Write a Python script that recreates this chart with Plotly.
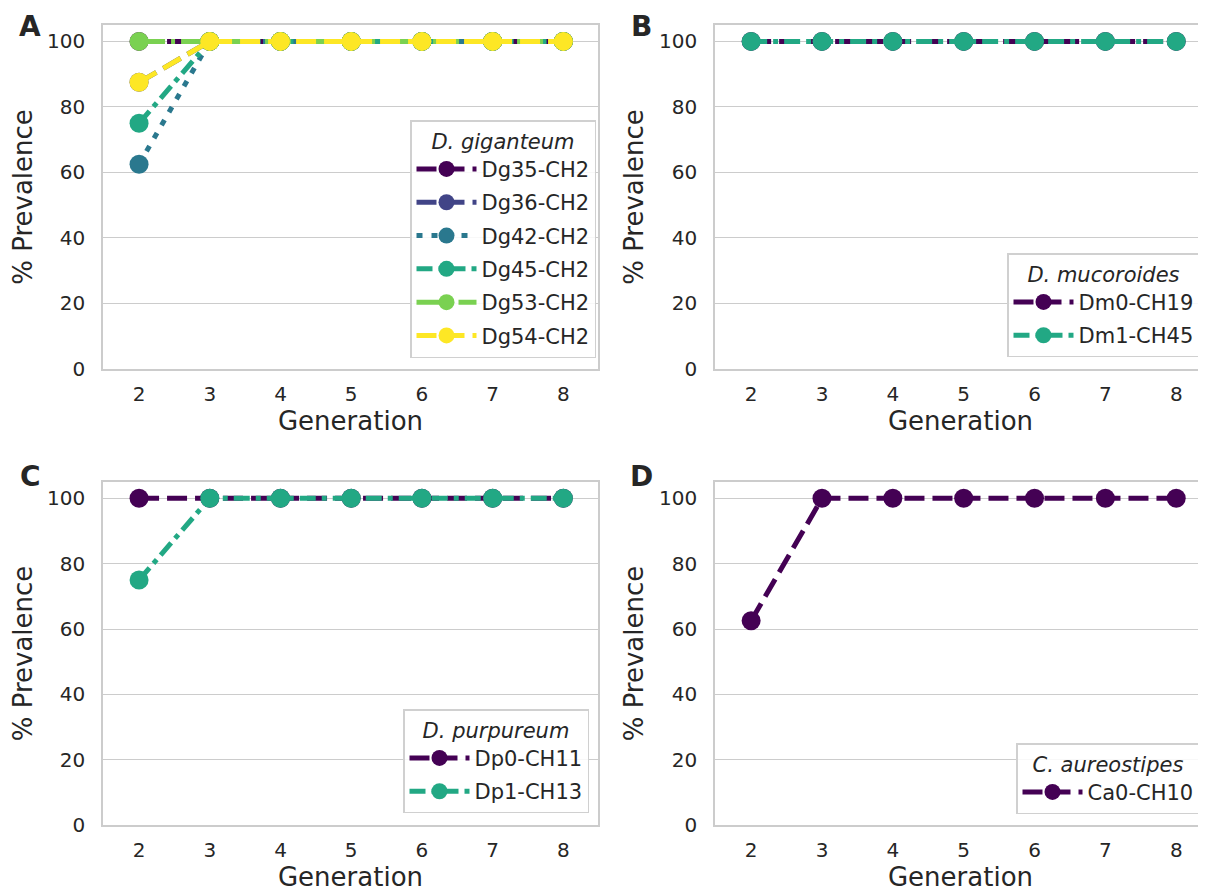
import plotly.graph_objects as go

# page offset (browser default body margin) compensated in layout
OFF = 8
W, H = 1206 - OFF, 895 - OFF

generations = [2, 3, 4, 5, 6, 7, 8]

# Panel A: D. giganteum
dg_names = ["Dg35-CH2", "Dg36-CH2", "Dg42-CH2", "Dg45-CH2", "Dg53-CH2", "Dg54-CH2"]
dg35 = [100, 100, 100, 100, 100, 100, 100]
dg36 = [87.5, 100, 100, 100, 100, 100, 100]
dg42 = [62.5, 100, 100, 100, 100, 100, 100]
dg45 = [75, 100, 100, 100, 100, 100, 100]
dg53 = [100, 100, 100, 100, 100, 100, 100]
dg54 = [87.5, 100, 100, 100, 100, 100, 100]

# Panel B: D. mucoroides
dm_names = ["Dm0-CH19", "Dm1-CH45"]
dm0 = [100, 100, 100, 100, 100, 100, 100]
dm1 = [100, 100, 100, 100, 100, 100, 100]

# Panel C: D. purpureum
dp_names = ["Dp0-CH11", "Dp1-CH13"]
dp0 = [100, 100, 100, 100, 100, 100, 100]
dp1 = [75, 100, 100, 100, 100, 100, 100]

# Panel D: C. aureostipes
ca_names = ["Ca0-CH10"]
ca0 = [62.5, 100, 100, 100, 100, 100, 100]

y_ticks = [0, 20, 40, 60, 80, 100]

PURPLE = "#440154"
BLUE = "#414487"
STEEL = "#2a788e"
TEAL = "#22a884"
GREEN = "#7ad151"
YELLOW = "#fde725"

DASH = "20px,8px"
DOT = "6px,9px"
DASHDOT = "16px,6px,5px,6px"
LONGDASH = "26px,6px,4px,6px"

fig = go.Figure()

def add(name, y, color, dash, xa, ya, legend):
    fig.add_trace(go.Scatter(
        x=generations, y=y, name=name, mode="lines+markers",
        line=dict(color=color, width=5, dash=dash),
        marker=dict(color=color, size=19),
        xaxis=xa, yaxis=ya, legend=legend, legendgroup=name,
    ))

add(dg_names[0], dg35, PURPLE, DASH, "x", "y", "legend")
add(dg_names[1], dg36, BLUE, DASH, "x", "y", "legend")
add(dg_names[2], dg42, STEEL, DOT, "x", "y", "legend")
add(dg_names[3], dg45, TEAL, DASHDOT, "x", "y", "legend")
add(dg_names[4], dg53, GREEN, LONGDASH, "x", "y", "legend")
add(dg_names[5], dg54, YELLOW, DASH, "x", "y", "legend")

add(dm_names[0], dm0, PURPLE, DASH, "x2", "y2", "legend2")
add(dm_names[1], dm1, TEAL, DASHDOT, "x2", "y2", "legend2")

add(dp_names[0], dp0, PURPLE, DASH, "x3", "y3", "legend3")
add(dp_names[1], dp1, TEAL, DASHDOT, "x3", "y3", "legend3")

add(ca_names[0], ca0, PURPLE, DASH, "x4", "y4", "legend4")

FONT = "DejaVu Sans"
TXT = "#262626"
GRID = "#cccccc"

def px_x(p):
    return (p - OFF) / W

def px_y(p):
    return 1 - (p - OFF) / H

left_dom = [px_x(103), px_x(598)]
right_dom = [px_x(715), 1.0]
top_dom = [px_y(369), px_y(25)]
bot_dom = [px_y(825), px_y(482)]

def xaxis(domain, anchor, rng):
    return dict(
        domain=domain, anchor=anchor, range=rng, automargin=False,
        tickvals=generations, ticktext=[str(g) for g in generations],
        showgrid=False, zeroline=False,
        showline=True, mirror=True, linecolor=GRID, linewidth=1.5,
        ticks="", ticklabelstandoff=6,
        tickfont=dict(size=20, color=TXT, family=FONT),
        title=dict(text="Generation", font=dict(size=26, color=TXT, family=FONT), standoff=4),
    )

def yaxis(domain, anchor):
    return dict(
        domain=domain, anchor=anchor, range=[0, 105], automargin=False,
        tickvals=y_ticks, ticktext=[str(t) for t in y_ticks],
        showgrid=True, gridcolor=GRID, gridwidth=1.2, zeroline=False,
        showline=True, mirror=True, linecolor=GRID, linewidth=1.5,
        ticks="", ticklabelstandoff=12,
        tickfont=dict(size=20, color=TXT, family=FONT),
        title=dict(text="% Prevalence", font=dict(size=26, color=TXT, family=FONT), standoff=8),
    )

def legend(title, x, y):
    return dict(
        title=dict(text="<i>" + title + "</i>", side="top center",
                   font=dict(size=21, color=TXT, family=FONT)),
        x=x, y=y, xanchor="right", yanchor="bottom",
        xref="paper", yref="paper",
        bgcolor="rgba(255,255,255,0.85)", bordercolor="#d0d0d0", borderwidth=1.5,
        font=dict(size=21, color=TXT, family=FONT),
        itemwidth=60, tracegroupgap=3, traceorder="grouped",
    )

fig.update_layout(
    width=W, height=H,
    margin=dict(l=0, r=0, t=0, b=0),
    paper_bgcolor="white", plot_bgcolor="white",
    font=dict(family=FONT, color=TXT),
    xaxis=xaxis(left_dom, "y", [1.49, 8.49]),
    yaxis=yaxis(top_dom, "x"),
    xaxis2=xaxis(right_dom, "y2", [1.49, 8.42]),
    yaxis2=yaxis(top_dom, "x2"),
    xaxis3=xaxis(left_dom, "y3", [1.49, 8.49]),
    yaxis3=yaxis(bot_dom, "x3"),
    xaxis4=xaxis(right_dom, "y4", [1.49, 8.42]),
    yaxis4=yaxis(bot_dom, "x4"),
    legend=legend("D. giganteum", px_x(596), px_y(358)),
    legend2=legend("D. mucoroides", px_x(1200), px_y(357)),
    legend3=legend("D. purpureum", px_x(589), px_y(813)),
    legend4=legend("C. aureostipes", px_x(1200), px_y(814)),
    showlegend=True,
)

for letter, xp, yp, anchor in [("A", 30, 8, "top"), ("B", 641, 8, "top"),
                               ("C", 30, 477, "middle"), ("D", 641, 477, "middle")]:
    fig.add_annotation(text="<b>" + letter + "</b>", x=px_x(xp), y=px_y(yp),
                       xref="paper", yref="paper", showarrow=False,
                       xanchor="center", yanchor=anchor,
                       font=dict(size=28, color=TXT, family=FONT))

fig.write_html("out.html")
